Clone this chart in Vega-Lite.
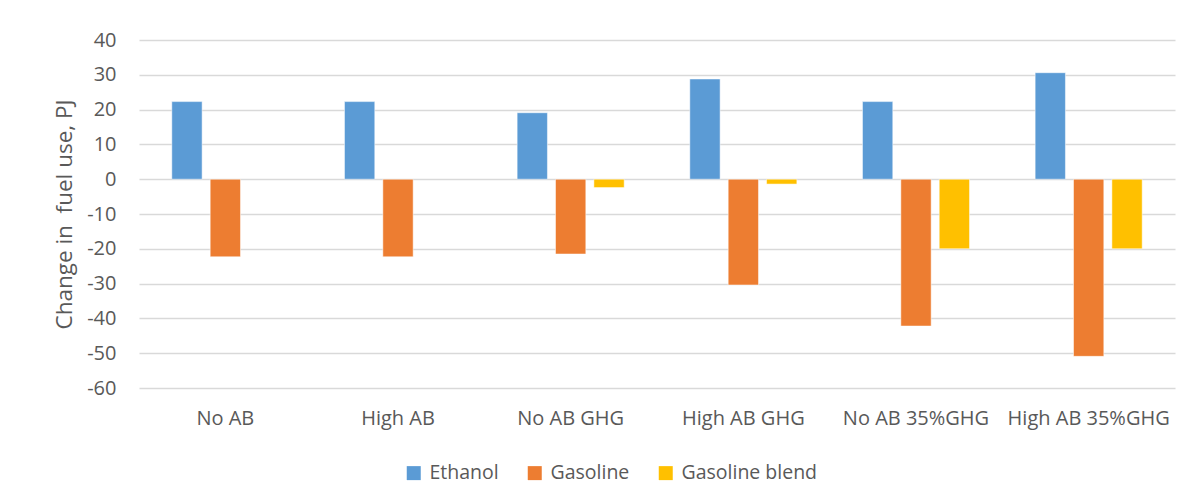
{
  "$schema": "https://vega.github.io/schema/vega-lite/v6.json",
  "autosize": {"type": "none"},
  "padding": {"left": 139, "top": 40, "right": 23, "bottom": 113},
  "width": 1036,
  "height": 348,
  "background": "white",
  "data": {
    "values": [
      {"scenario": "No AB", "fuel": "Ethanol", "change": 22.3},
      {"scenario": "No AB", "fuel": "Gasoline", "change": -22.3},
      {"scenario": "High AB", "fuel": "Ethanol", "change": 22.3},
      {"scenario": "High AB", "fuel": "Gasoline", "change": -22.3},
      {"scenario": "No AB GHG", "fuel": "Ethanol", "change": 19.1},
      {"scenario": "No AB GHG", "fuel": "Gasoline", "change": -21.5},
      {"scenario": "No AB GHG", "fuel": "Gasoline blend", "change": -2.4},
      {"scenario": "High AB GHG", "fuel": "Ethanol", "change": 28.8},
      {"scenario": "High AB GHG", "fuel": "Gasoline", "change": -30.4},
      {"scenario": "High AB GHG", "fuel": "Gasoline blend", "change": -1.4},
      {"scenario": "No AB 35%GHG", "fuel": "Ethanol", "change": 22.3},
      {"scenario": "No AB 35%GHG", "fuel": "Gasoline", "change": -42.2},
      {"scenario": "No AB 35%GHG", "fuel": "Gasoline blend", "change": -20.0},
      {"scenario": "High AB 35%GHG", "fuel": "Ethanol", "change": 30.6},
      {"scenario": "High AB 35%GHG", "fuel": "Gasoline", "change": -50.9},
      {"scenario": "High AB 35%GHG", "fuel": "Gasoline blend", "change": -20.0}
    ]
  },
  "mark": {"type": "bar", "stroke": "white", "strokeWidth": 1, "strokeOpacity": 0.5},
  "encoding": {
    "x": {
      "field": "scenario",
      "type": "nominal",
      "sort": ["No AB", "High AB", "No AB GHG", "High AB GHG", "No AB 35%GHG", "High AB 35%GHG"],
      "scale": {"paddingInner": 0.38, "paddingOuter": 0.19},
      "axis": {
        "title": null,
        "labelAngle": 0,
        "domain": false,
        "ticks": false,
        "labelPadding": 20,
        "labelFont": "Open Sans",
        "labelFontSize": 20,
        "labelColor": "#595959"
      }
    },
    "xOffset": {
      "field": "fuel",
      "type": "nominal",
      "sort": ["Ethanol", "Gasoline", "Gasoline blend"],
      "scale": {"paddingInner": 0.21, "paddingOuter": 0}
    },
    "y": {
      "field": "change",
      "type": "quantitative",
      "scale": {"domain": [-60, 40], "nice": false},
      "axis": {
        "title": "Change in\u00a0 fuel use, PJ",
        "values": [-60, -50, -40, -30, -20, -10, 0, 10, 20, 30, 40],
        "labelExpr": "toString(datum.value)",
        "domain": false,
        "ticks": false,
        "grid": true,
        "gridColor": "#d9d9d9",
        "gridWidth": 1.5,
        "labelPadding": 23,
        "labelFont": "Open Sans",
        "labelFontSize": 20,
        "labelColor": "#595959",
        "titleFont": "Open Sans",
        "titleFontSize": 22.5,
        "titleFontWeight": "normal",
        "titleColor": "#595959",
        "titlePadding": 10
      }
    },
    "color": {
      "field": "fuel",
      "type": "nominal",
      "sort": ["Ethanol", "Gasoline", "Gasoline blend"],
      "scale": {
        "domain": ["Ethanol", "Gasoline", "Gasoline blend"],
        "range": ["#5B9BD5", "#ED7D31", "#FFC000"]
      },
      "legend": {
        "title": null,
        "orient": "none",
        "direction": "horizontal",
        "legendX": 265,
        "legendY": 423,
        "symbolType": "square",
        "symbolSize": 196,
        "symbolStrokeWidth": 0,
        "symbolOpacity": 1,
        "labelFont": "Open Sans",
        "labelFontSize": 19.5,
        "labelColor": "#595959",
        "labelOffset": 6,
        "columnPadding": 26
      }
    }
  },
  "config": {
    "view": {"stroke": null}
  }
}
